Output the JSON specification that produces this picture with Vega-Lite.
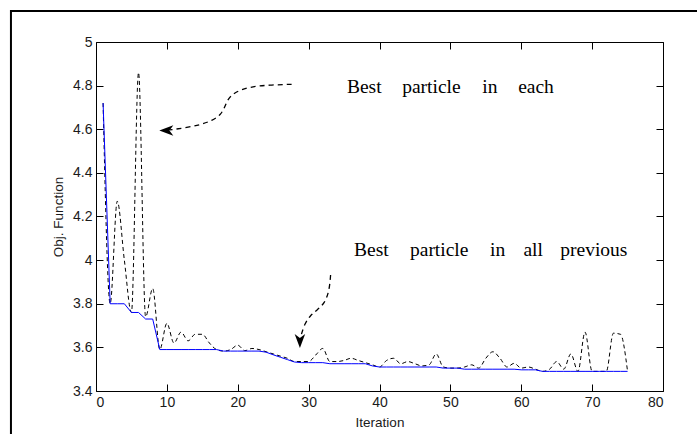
{
  "$schema": "https://vega.github.io/schema/vega-lite/v6.json",
  "width": 567,
  "height": 349,
  "autosize": {"type": "none"},
  "padding": {"left": 96, "top": 42, "right": 34, "bottom": 43},
  "background": "white",
  "config": {
    "view": {"stroke": "#000", "strokeWidth": 1},
    "axis": {
      "domain": false,
      "grid": false,
      "tickColor": "#000",
      "tickSize": -7,
      "labelFont": "Liberation Sans",
      "labelFontSize": 14,
      "labelColor": "#1a1a1a",
      "titleFont": "Liberation Sans",
      "titleFontSize": 13.5,
      "titleFontWeight": "normal",
      "titleColor": "#1a1a1a"
    }
  },
  "datasets": {
    "series": [
      {"it": 1, "each": 4.72, "best": 4.72},
      {"it": 2, "each": 3.80, "best": 3.80},
      {"it": 3, "each": 4.27, "best": 3.80},
      {"it": 4, "each": 4.00, "best": 3.80},
      {"it": 5, "each": 3.76, "best": 3.76},
      {"it": 6, "each": 4.86, "best": 3.76},
      {"it": 7, "each": 3.74, "best": 3.73},
      {"it": 8, "each": 3.87, "best": 3.73},
      {"it": 9, "each": 3.59, "best": 3.59},
      {"it": 10, "each": 3.71, "best": 3.59},
      {"it": 11, "each": 3.62, "best": 3.59},
      {"it": 12, "each": 3.67, "best": 3.59},
      {"it": 13, "each": 3.63, "best": 3.59},
      {"it": 14, "each": 3.66, "best": 3.59},
      {"it": 15, "each": 3.66, "best": 3.59},
      {"it": 16, "each": 3.62, "best": 3.59},
      {"it": 17, "each": 3.59, "best": 3.59},
      {"it": 18, "each": 3.583, "best": 3.583},
      {"it": 19, "each": 3.59, "best": 3.583},
      {"it": 20, "each": 3.61, "best": 3.583},
      {"it": 21, "each": 3.585, "best": 3.583},
      {"it": 22, "each": 3.595, "best": 3.583},
      {"it": 23, "each": 3.59, "best": 3.583},
      {"it": 24, "each": 3.58, "best": 3.578},
      {"it": 25, "each": 3.57, "best": 3.566},
      {"it": 26, "each": 3.56, "best": 3.555},
      {"it": 27, "each": 3.55, "best": 3.544},
      {"it": 28, "each": 3.535, "best": 3.533},
      {"it": 29, "each": 3.535, "best": 3.53},
      {"it": 30, "each": 3.535, "best": 3.53},
      {"it": 31, "each": 3.565, "best": 3.53},
      {"it": 32, "each": 3.595, "best": 3.53},
      {"it": 33, "each": 3.535, "best": 3.525},
      {"it": 34, "each": 3.535, "best": 3.525},
      {"it": 35, "each": 3.54, "best": 3.525},
      {"it": 36, "each": 3.55, "best": 3.525},
      {"it": 37, "each": 3.54, "best": 3.525},
      {"it": 38, "each": 3.53, "best": 3.525},
      {"it": 39, "each": 3.52, "best": 3.515},
      {"it": 40, "each": 3.51, "best": 3.51},
      {"it": 41, "each": 3.54, "best": 3.51},
      {"it": 42, "each": 3.55, "best": 3.51},
      {"it": 43, "each": 3.525, "best": 3.51},
      {"it": 44, "each": 3.535, "best": 3.51},
      {"it": 45, "each": 3.525, "best": 3.51},
      {"it": 46, "each": 3.515, "best": 3.51},
      {"it": 47, "each": 3.52, "best": 3.51},
      {"it": 48, "each": 3.57, "best": 3.51},
      {"it": 49, "each": 3.51, "best": 3.505},
      {"it": 50, "each": 3.505, "best": 3.505},
      {"it": 51, "each": 3.505, "best": 3.505},
      {"it": 52, "each": 3.51, "best": 3.50},
      {"it": 53, "each": 3.52, "best": 3.50},
      {"it": 54, "each": 3.505, "best": 3.50},
      {"it": 55, "each": 3.55, "best": 3.50},
      {"it": 56, "each": 3.58, "best": 3.50},
      {"it": 57, "each": 3.55, "best": 3.50},
      {"it": 58, "each": 3.51, "best": 3.50},
      {"it": 59, "each": 3.527, "best": 3.50},
      {"it": 60, "each": 3.505, "best": 3.497},
      {"it": 61, "each": 3.51, "best": 3.497},
      {"it": 62, "each": 3.50, "best": 3.497},
      {"it": 63, "each": 3.49, "best": 3.49},
      {"it": 64, "each": 3.50, "best": 3.49},
      {"it": 65, "each": 3.535, "best": 3.49},
      {"it": 66, "each": 3.50, "best": 3.49},
      {"it": 67, "each": 3.57, "best": 3.49},
      {"it": 68, "each": 3.49, "best": 3.49},
      {"it": 69, "each": 3.67, "best": 3.49},
      {"it": 70, "each": 3.49, "best": 3.49},
      {"it": 71, "each": 3.49, "best": 3.49},
      {"it": 72, "each": 3.49, "best": 3.49},
      {"it": 73, "each": 3.665, "best": 3.49},
      {"it": 74, "each": 3.66, "best": 3.49},
      {"it": 75, "each": 3.49, "best": 3.49}
    ],
    "words": [
      {"word": "Best", "x": 35.4, "y": 4.765},
      {"word": "particle", "x": 43.2, "y": 4.765},
      {"word": "in", "x": 54.5, "y": 4.765},
      {"word": "each", "x": 59.56, "y": 4.765},
      {"word": "Best", "x": 36.4, "y": 4.019},
      {"word": "particle", "x": 44.3, "y": 4.019},
      {"word": "in", "x": 55.6, "y": 4.019},
      {"word": "all", "x": 60.3, "y": 4.019},
      {"word": "previous", "x": 65.5, "y": 4.019}
    ],
    "arrows": [
      {"arrow": "a", "i": 1, "x": 27.6, "y": 4.806},
      {"arrow": "a", "i": 2, "x": 24.5, "y": 4.803},
      {"arrow": "a", "i": 3, "x": 21.7, "y": 4.795},
      {"arrow": "a", "i": 4, "x": 19.6, "y": 4.771},
      {"arrow": "a", "i": 5, "x": 18.6, "y": 4.739},
      {"arrow": "a", "i": 6, "x": 18.2, "y": 4.704},
      {"arrow": "a", "i": 7, "x": 17.6, "y": 4.665},
      {"arrow": "a", "i": 8, "x": 16.4, "y": 4.640},
      {"arrow": "a", "i": 9, "x": 14.7, "y": 4.620},
      {"arrow": "a", "i": 10, "x": 12.5, "y": 4.606},
      {"arrow": "a", "i": 11, "x": 10.4, "y": 4.597},
      {"arrow": "b", "i": 1, "x": 33.10, "y": 3.932},
      {"arrow": "b", "i": 2, "x": 32.93, "y": 3.863},
      {"arrow": "b", "i": 3, "x": 32.30, "y": 3.803},
      {"arrow": "b", "i": 4, "x": 31.17, "y": 3.771},
      {"arrow": "b", "i": 5, "x": 30.18, "y": 3.744},
      {"arrow": "b", "i": 6, "x": 29.48, "y": 3.710},
      {"arrow": "b", "i": 7, "x": 29.01, "y": 3.664},
      {"arrow": "b", "i": 8, "x": 28.84, "y": 3.643}
    ],
    "heads": [
      {"arrow": "a", "x": 9.92, "y": 4.594},
      {"arrow": "b", "x": 28.77, "y": 3.629}
    ],
    "frame": [
      {"x1": -12, "x2": 90, "y1": 5.142, "y2": 3.0}
    ]
  },
  "layer": [
    {
      "data": {"name": "frame"},
      "mark": {"type": "rect", "fill": null, "stroke": "#000", "strokeWidth": 2, "clip": false},
      "encoding": {
        "x": {"field": "x1", "type": "quantitative", "scale": {"domain": [0, 80]}, "axis": null},
        "x2": {"field": "x2"},
        "y": {"field": "y1", "type": "quantitative", "scale": {"domain": [3.4, 5]}, "axis": null},
        "y2": {"field": "y2"}
      }
    },
    {
      "data": {"name": "series"},
      "mark": {"type": "line", "color": "#000", "strokeWidth": 1, "strokeDash": [4, 3], "interpolate": "monotone"},
      "encoding": {
        "x": {"field": "it", "type": "quantitative", "scale": {"domain": [0, 80]},
              "axis": {"orient": "bottom", "values": [0, 10, 20, 30, 40, 50, 60, 70, 80], "title": "Iteration", "labelPadding": 11, "titlePadding": 6}},
        "y": {"field": "each", "type": "quantitative", "scale": {"domain": [3.4, 5]},
              "axis": {"orient": "left", "values": [3.4, 3.6, 3.8, 4, 4.2, 4.4, 4.6, 4.8, 5], "format": "~g", "title": "Obj. Function", "labelPadding": 11, "titlePadding": 7}}
      }
    },
    {
      "data": {"name": "series"},
      "mark": {"type": "line", "color": "#0000ff", "strokeWidth": 1},
      "encoding": {
        "x": {"field": "it", "type": "quantitative",
              "axis": {"orient": "top", "values": [0, 10, 20, 30, 40, 50, 60, 70, 80], "labels": false, "title": null}},
        "y": {"field": "best", "type": "quantitative",
              "axis": {"orient": "right", "values": [3.4, 3.6, 3.8, 4, 4.2, 4.4, 4.6, 4.8, 5], "labels": false, "title": null}}
      }
    },
    {
      "data": {"name": "arrows"},
      "mark": {"type": "line", "color": "#000", "strokeWidth": 1.3, "strokeDash": [5, 4], "interpolate": "basis", "clip": false},
      "encoding": {
        "x": {"field": "x", "type": "quantitative", "axis": null},
        "y": {"field": "y", "type": "quantitative", "axis": null},
        "detail": {"field": "arrow"},
        "order": {"field": "i"}
      }
    },
    {
      "data": {"name": "heads"},
      "transform": [{"filter": "datum.arrow === 'a'"}],
      "mark": {"type": "point", "shape": "M -1 0 L 1 -0.75 L 0.45 0 L 1 0.75 Z", "size": 196, "filled": true, "color": "#000", "opacity": 1},
      "encoding": {
        "x": {"field": "x", "type": "quantitative", "axis": null},
        "y": {"field": "y", "type": "quantitative", "axis": null}
      }
    },
    {
      "data": {"name": "heads"},
      "transform": [{"filter": "datum.arrow === 'b'"}],
      "mark": {"type": "point", "shape": "M 0 1 L -0.75 -1 L 0 -0.45 L 0.75 -1 Z", "size": 196, "filled": true, "color": "#000", "opacity": 1},
      "encoding": {
        "x": {"field": "x", "type": "quantitative", "axis": null},
        "y": {"field": "y", "type": "quantitative", "axis": null}
      }
    },
    {
      "data": {"name": "words"},
      "mark": {"type": "text", "font": "Liberation Serif", "fontSize": 19.5, "align": "left", "baseline": "alphabetic", "color": "#000"},
      "encoding": {
        "x": {"field": "x", "type": "quantitative", "axis": null},
        "y": {"field": "y", "type": "quantitative", "axis": null},
        "text": {"field": "word"}
      }
    }
  ],
  "resolve": {"axis": {"x": "independent", "y": "independent"}}
}
